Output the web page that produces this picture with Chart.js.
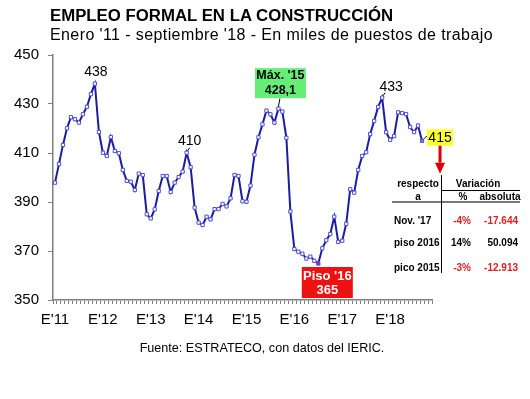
<!DOCTYPE html>
<html>
<head>
<meta charset="utf-8">
<script src="https://cdn.jsdelivr.net/npm/chart.js@4/dist/chart.umd.min.js"></script>
<style>
html,body{margin:0;padding:0;background:#fff;}
#wrap{position:relative;width:530px;height:399px;overflow:hidden;font-family:"Liberation Sans",Arial,sans-serif;}
#c{position:absolute;left:0;top:0;}
.t{position:absolute;white-space:nowrap;color:#000;}
</style>
</head>
<body>
<div id="wrap">
<canvas id="c" width="530" height="399"></canvas>
<div class="t" id="title" style="left:50px;top:6px;font-size:16.8px;font-weight:bold;">EMPLEO FORMAL EN LA CONSTRUCCIÓN</div>
<div class="t" id="sub" style="left:50px;top:26px;font-size:16px;letter-spacing:0.4px;">Enero '11 - septiembre '18 - En miles de puestos de trabajo</div>
<div class="t" id="foot" style="left:0;width:524px;text-align:center;top:341px;font-size:12.6px;">Fuente: ESTRATECO, con datos del IERIC.</div>
</div>
<script>
// ---- data ----
const years = ['11','12','13','14','15','16','17','18'];
const extraMonths = 2; // empty slots after Sep '18 on the axis (Oct, Nov)
const empleo = [
  397.9, 405.5, 413.3, 420.1, 424.6, 423.8, 422.4, 425.8, 428.9, 434.0, 438.3, 418.6,
  410.1, 408.8, 416.5, 410.8, 409.9, 403.1, 398.6, 398.3, 394.9, 401.6, 401.0, 385.0,
  383.3, 387.0, 394.5, 400.6, 400.6, 394.1, 397.9, 400.2, 402.4, 410.1, 404.2, 387.7,
  381.6, 380.6, 384.0, 382.9, 387.1, 387.1, 389.2, 388.2, 391.5, 401.0, 400.6, 390.3,
  390.1, 396.7, 409.3, 416.4, 421.7, 427.3, 425.8, 422.4, 428.1, 426.9, 416.2, 386.1,
  370.8, 369.7, 368.9, 366.9, 367.7, 366.0, 364.9, 371.1, 374.4, 376.9, 384.0, 373.7,
  374.2, 381.1, 395.2, 393.8, 403.1, 408.8, 410.3, 417.7, 423.1, 428.8, 432.6, 418.5,
  415.4, 416.9, 426.6, 426.3, 425.9, 420.6, 418.5, 421.2, 415.0
];
const yTicks = [350, 370, 390, 410, 430, 450];
const peakLabels = [ {i:10, text:'438'}, {i:33, text:'410'}, {i:82, text:'433'} ];
const maxIdx = 56, maxText = ["Máx. '15", "428,1"];
const minIdx = 66, minText = ["Piso '16", "365"];
const lastIdx = 92, lastText = "415";
const tableHead = ["respecto", "a", "Variación", "%", "absoluta"];
const tableRows = ["Nov. '17", "piso 2016", "pico 2015"];
const tablePct = ["-4%", "14%", "-3%"];
const tableAbs = ["-17.644", "50.094", "-12.913"];

// category labels (one per month)
const categories = [];
years.forEach(y => { for (let m = 0; m < 12; m++) categories.push(m === 0 ? "E'" + y : ''); });
const nCats = 12 * 7 + 9 + extraMonths;
categories.length = nCats;
const series = categories.map((_, k) => k < empleo.length ? empleo[k] : null);

const annot = {
  id: 'annot',
  afterDatasetsDraw(chart) {
    const ctx = chart.ctx, xs = chart.scales.x, ys = chart.scales.y;
    const px = i => xs.getPixelForValue(i), py = v => ys.getPixelForValue(v);
    ctx.save();
    ctx.textAlign = 'center'; ctx.textBaseline = 'middle';
    // peak labels
    ctx.font = '14px "Liberation Sans", Arial, sans-serif';
    ctx.fillStyle = '#000';
    const offs = {10:[1,-12], 33:[3,-12], 82:[9,-10]};
    peakLabels.forEach(p => {
      const x = px(p.i), y = py(empleo[p.i]);
      const o = offs[p.i];
      ctx.fillText(p.text, x + o[0], y + o[1]);
      if (p.i === 33 || p.i === 82) {
        ctx.strokeStyle = '#000'; ctx.lineWidth = 1;
        ctx.beginPath(); ctx.moveTo(x + 1, y - 2); ctx.lineTo(x + 3, y - 5); ctx.stroke();
      }
    });
    // max box (green)
    let x = px(maxIdx), y = py(empleo[maxIdx]);
    ctx.strokeStyle = '#000'; ctx.lineWidth = 1;
    ctx.beginPath(); ctx.moveTo(x, y - 2); ctx.lineTo(x + 1.5, y - 10); ctx.stroke();
    ctx.fillStyle = '#66ee77';
    ctx.fillRect(x - 23.5, y - 40.5, 51, 30);
    ctx.fillStyle = '#000';
    ctx.font = 'bold 12.5px "Liberation Sans", Arial, sans-serif';
    ctx.fillText(maxText[0], x + 2, y - 33);
    ctx.fillText(maxText[1], x + 2, y - 18.5);
    // min box (red)
    x = px(minIdx); y = py(empleo[minIdx]);
    ctx.fillStyle = '#ee1111';
    ctx.fillRect(x - 16.5, y + 3.5, 51, 31);
    ctx.fillStyle = '#fff';
    ctx.font = 'bold 13px "Liberation Sans", Arial, sans-serif';
    ctx.fillText(minText[0], x + 9, y + 12.5);
    ctx.fillText(minText[1], x + 9, y + 27);
    // last value yellow box
    x = px(lastIdx); y = py(empleo[lastIdx]);
    ctx.strokeStyle = '#000';
    ctx.beginPath(); ctx.moveTo(x + 2, y - 2); ctx.lineTo(x + 5, y - 5); ctx.stroke();
    ctx.fillStyle = '#ffff33';
    ctx.fillRect(x + 5, y - 11.5, 26, 16.5);
    ctx.fillStyle = '#000';
    ctx.font = '14px "Liberation Sans", Arial, sans-serif';
    ctx.fillText(lastText, x + 18, y - 3);
    // red arrow
    const ax = x + 18, ay = y + 5;
    ctx.fillStyle = '#dd0000';
    ctx.fillRect(ax - 1.5, ay, 3, 17);
    ctx.beginPath(); ctx.moveTo(ax - 5, ay + 17); ctx.lineTo(ax + 5, ay + 17); ctx.lineTo(ax, ay + 28); ctx.closePath(); ctx.fill();
    // table
    const tf = 'bold 10px "Liberation Sans", Arial, sans-serif';
    ctx.font = tf; ctx.fillStyle = '#000';
    ctx.fillText(tableHead[0], 418, 184.5);
    ctx.fillText(tableHead[1], 418, 197);
    ctx.fillText(tableHead[2], 478, 184.5);
    ctx.fillText(tableHead[3], 463, 197);
    ctx.fillText(tableHead[4], 500, 197);
    ctx.strokeStyle = '#000'; ctx.lineWidth = 1;
    ctx.beginPath(); ctx.moveTo(442, 190.5); ctx.lineTo(520, 190.5); ctx.stroke();
    ctx.strokeStyle = '#777'; ctx.lineWidth = 2;
    ctx.beginPath(); ctx.moveTo(392, 202); ctx.lineTo(520, 202); ctx.stroke();
    ctx.strokeStyle = '#000'; ctx.lineWidth = 1;
    ctx.beginPath(); ctx.moveTo(441.5, 175); ctx.lineTo(441.5, 273); ctx.stroke();
    const rowY = [221, 243.5, 268];
    tableRows.forEach((r, k) => {
      ctx.textAlign = 'left'; ctx.fillStyle = '#000';
      ctx.fillText(r, 394, rowY[k]);
      ctx.textAlign = 'right';
      ctx.fillStyle = tablePct[k].startsWith('-') ? '#e02020' : '#000';
      ctx.fillText(tablePct[k], 471, rowY[k]);
      ctx.fillStyle = tableAbs[k].startsWith('-') ? '#e02020' : '#000';
      ctx.fillText(tableAbs[k], 518, rowY[k]);
    });
    ctx.restore();
  }
};

new Chart(document.getElementById('c'), {
  type: 'line',
  data: {
    labels: categories,
    datasets: [{
      data: series,
      borderColor: '#1c1ca0',
      borderWidth: 2,
      tension: 0,
      pointStyle: 'rect',
      pointRadius: 2.3,
      pointBorderWidth: 1,
      pointBorderColor: '#4d4dd6',
      pointBackgroundColor: ctx => ctx.dataIndex === minIdx ? '#e0206a' : (ctx.dataIndex === lastIdx ? '#8080b0' : '#ffffff'),
      spanGaps: false
    }]
  },
  options: {
    responsive: false,
    devicePixelRatio: 1,
    animation: false,
    layout: { padding: { left: 0, top: 55, right: 98, bottom: 59 } },
    plugins: { legend: { display: false }, tooltip: { enabled: false }, title: { display: false } },
    scales: {
      x: {
        offset: true,
        afterFit: s => { s.height = 40; },
        grid: { drawOnChartArea: false, drawTicks: true, tickLength: 4, color: '#808080', offset: true },
        border: { color: '#808080', width: 1.5 },
        ticks: {
          autoSkip: false, maxRotation: 0, minRotation: 0, padding: 7,
          font: { size: 15, family: '"Liberation Sans", Arial, sans-serif' }, color: '#000',
          callback: (v, i) => categories[i]
        }
      },
      y: {
        min: 350, max: 450,
        afterFit: s => { s.width = 53; },
        afterBuildTicks: s => { s.ticks = yTicks.map(v => ({ value: v })); },
        grid: { drawOnChartArea: false, drawTicks: true, tickLength: 5, color: '#808080' },
        border: { color: '#808080', width: 1.5 },
        ticks: { padding: 9, font: { size: 15, family: '"Liberation Sans", Arial, sans-serif' }, color: '#000' }
      }
    }
  },
  plugins: [annot]
});
</script>
</body>
</html>
